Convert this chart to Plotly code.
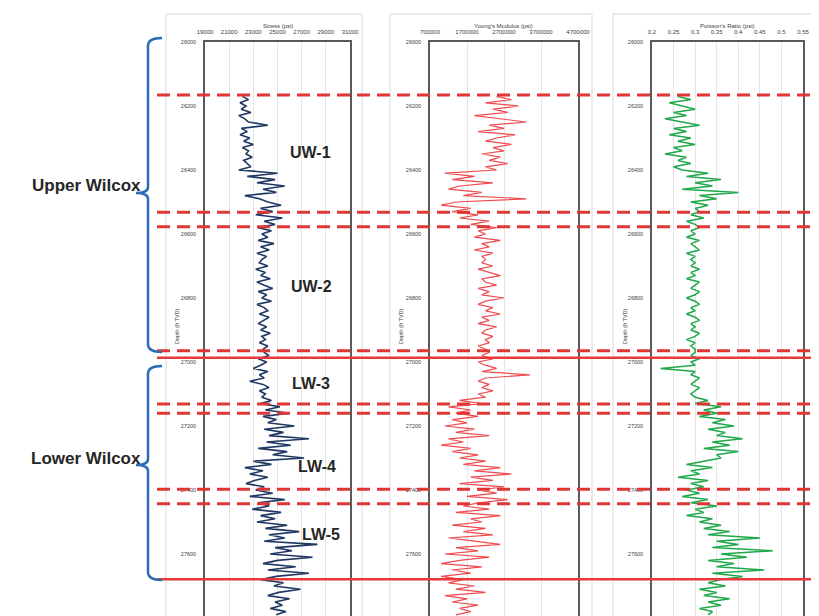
import plotly.graph_objects as go

W, H = 819, 616
OFFSET = 8  # page body margin in the browser

# ---------------- data ----------------
depth_start = 26170
depth_step = 10

stress_psi = [
    22100, 22600, 21900, 22400, 22000, 22800, 21800, 22300, 22600, 24200, 22000, 22500,
    21900, 22700, 22200, 23000, 22100, 22600, 22400, 22900, 22200, 22500, 22800, 21800,
    25000, 22500, 24800, 23300, 25600, 23800, 24900, 22300, 23500, 24200, 25300, 23600,
    24600, 23200, 25400, 23900, 24800, 23400, 24500, 23700, 24200, 23400, 24700, 23600, 24300, 23300, 24100, 23700,
    23500, 24200, 23200, 24000, 23600, 24400, 23300, 23900, 24600, 23400, 24100, 23700, 24500, 23300,
    23900, 24200, 23500, 24300, 23800, 23400, 24100, 23600, 24400, 23700, 24000, 23500, 24200, 23800,
    23900, 24300, 23400, 24100, 23600, 23000, 24200, 23500, 23900, 22700, 23800, 24300, 23500, 24000, 23700,
    24500, 23600, 25200, 24000, 26000, 23800, 24900,
    24200, 26400, 23900, 25500, 24300, 27600, 24100, 26100, 23400, 25800, 24600, 27200,
    23000, 24500, 22300, 23800, 22700, 24200, 23100, 22400, 23900, 23200,
    24600, 22700, 25600, 23400, 24300, 22900, 25300, 23600, 24800, 23300, 25800, 24000,
    26800, 24300, 25600, 23900, 28300, 24800, 26200, 24400, 27900, 25000, 23800, 26500, 24200, 27600, 24900, 23600,
    25500, 24700, 26900, 25100, 24200, 26000, 24800, 25400, 24400, 25700, 24900,
]

youngs_mpsi = [
    2.5, 2.9, 2.2, 3.1, 2.4, 2.8, 1.9, 2.6, 3.3, 2.3, 2.7, 2.0, 3.0, 2.5, 2.2, 2.9, 2.4, 2.7, 2.1, 2.6, 2.3, 2.8, 2.2, 2.5,
    1.1, 1.9, 1.3, 2.4, 1.5, 1.2, 2.1, 1.6, 3.3, 1.4, 1.0, 1.8,
    1.3, 2.0, 1.5, 2.3, 1.8, 2.5, 2.0, 2.2, 1.9, 2.6, 2.1, 2.3, 1.9, 2.4, 2.1, 2.2,
    2.1, 2.4, 2.0, 2.3, 2.6, 2.1, 2.2, 2.5, 2.0, 2.3, 2.1, 2.7, 2.2, 2.0,
    2.4, 2.2, 2.6, 2.1, 2.3, 2.0, 2.5, 2.2, 2.1, 2.4, 2.2, 2.3, 2.0, 2.2,
    2.3, 2.1, 2.4, 2.0, 2.2, 2.5, 2.1, 3.4, 2.2, 2.0, 2.3, 2.1, 2.4, 2.0, 2.2,
    1.5, 2.1, 1.2, 1.8, 1.4, 2.0, 1.3,
    1.7, 1.1, 1.9, 1.4, 2.3, 1.2, 1.6, 1.0, 1.8, 1.3, 2.0, 1.5,
    2.2, 1.6, 2.6, 1.9, 2.9, 1.8, 2.4, 1.5, 2.7, 2.0,
    2.5, 1.7, 2.8, 2.0, 1.6, 2.3, 1.4, 2.6, 1.8, 2.1, 1.3, 2.2,
    1.6, 2.4, 1.2, 1.9, 2.6, 1.4, 2.0, 1.1, 2.3, 1.5, 1.0, 2.1, 1.3, 1.8, 1.0, 1.6,
    1.2, 1.9, 1.4, 2.2, 1.1, 1.7, 1.3, 2.0, 1.5, 1.8, 1.4,
]

poisson_ratio = [
    0.26, 0.29, 0.24, 0.27, 0.30, 0.25, 0.28, 0.23, 0.27, 0.31, 0.25, 0.28,
    0.24, 0.29, 0.26, 0.30, 0.25, 0.27, 0.23, 0.28, 0.26, 0.29, 0.25, 0.27,
    0.33, 0.28, 0.36, 0.30, 0.34, 0.27, 0.40, 0.31, 0.35, 0.29, 0.33, 0.30,
    0.31, 0.29, 0.32, 0.28, 0.30, 0.31, 0.29, 0.30, 0.28, 0.31, 0.29, 0.30, 0.31, 0.28, 0.30, 0.29,
    0.30, 0.29, 0.31, 0.29, 0.30, 0.28, 0.31, 0.30, 0.29, 0.31, 0.30, 0.28, 0.30, 0.31,
    0.29, 0.30, 0.28, 0.30, 0.31, 0.29, 0.30, 0.29, 0.31, 0.30, 0.28, 0.30, 0.29, 0.30,
    0.30, 0.29, 0.31, 0.29, 0.30, 0.22, 0.30, 0.29, 0.31, 0.30, 0.29, 0.31, 0.30, 0.29, 0.30,
    0.33, 0.30, 0.36, 0.32, 0.35, 0.31, 0.37,
    0.34, 0.39, 0.33, 0.37, 0.35, 0.41, 0.34, 0.38, 0.32, 0.40, 0.35, 0.36,
    0.32, 0.28, 0.34, 0.29, 0.31, 0.26, 0.33, 0.29, 0.32, 0.28,
    0.31, 0.27, 0.33, 0.29, 0.35, 0.30, 0.32, 0.28, 0.34, 0.31, 0.36, 0.32,
    0.38, 0.33, 0.45, 0.35, 0.40, 0.34, 0.48, 0.36, 0.42, 0.33, 0.39, 0.35, 0.46, 0.34, 0.41, 0.36,
    0.33, 0.37, 0.31, 0.35, 0.32, 0.38, 0.33, 0.36, 0.31, 0.34, 0.33,
]

depth_ft = [depth_start + i * depth_step for i in range(len(stress_psi))]

depth_ticks = [26000, 26200, 26400, 26600, 26800, 27000, 27200, 27400, 27600, 27800]
stress_ticks = [19000, 21000, 23000, 25000, 27000, 29000, 31000]
youngs_ticks = [700000, 1700000, 2700000, 3700000, 4700000]
poisson_ticks = [0.2, 0.25, 0.3, 0.35, 0.4, 0.45, 0.5, 0.55]
poisson_tick_text = ["0.2", "0.25", "0.3", "0.35", "0.4", "0.45", "0.5", "0.55"]

dashed_boundaries = [26166, 26532, 26577, 26965, 27131, 27160, 27398, 27443]
solid_boundaries = [26987, 27679]

zone_labels = ["UW-1", "UW-2", "LW-3", "LW-4", "LW-5"]
zone_label_depths = [26345, 26764, 27067, 27325, 27540]
zone_label_stress = [27690, 27850, 27770, 28270, 28600]

formations = ["Upper Wilcox", "Lower Wilcox"]

panel_titles = ["Stress (psi)", "Young's Modulus (psi)", "Poisson's Ratio (psi)"]

# ---------------- figure ----------------
def px(x):
    return (x - OFFSET) / W

def py(y):
    return 1 - (y - OFFSET) / H

fig = go.Figure()
fig.add_trace(go.Scatter(x=stress_psi, y=depth_ft, xaxis="x", yaxis="y", mode="lines",
                         line=dict(color="#1f3864", width=1.6), showlegend=False))
fig.add_trace(go.Scatter(x=[v * 1e6 for v in youngs_mpsi], y=depth_ft, xaxis="x2", yaxis="y2",
                         mode="lines", line=dict(color="#ee4b4f", width=1.2), showlegend=False))
fig.add_trace(go.Scatter(x=poisson_ratio, y=depth_ft, xaxis="x3", yaxis="y3", mode="lines",
                         line=dict(color="#20a84a", width=1.5), showlegend=False))

font = "Arial, Liberation Sans, sans-serif"
ydom = [0, py(42)]
yrange = [26000 + (H + OFFSET - 42) * 3.125, 26000]

def xax(dom, rng, tv, tt, anchor):
    return dict(domain=dom, range=rng, side="top", anchor=anchor, tickvals=tv, ticktext=tt,
                showgrid=True, gridcolor="#e6e6e6", gridwidth=1, zeroline=False,
                showline=True, linecolor="#5a5a5a", linewidth=1.5, mirror=True, automargin=False,
                ticks="", ticklabelstandoff=4, tickfont=dict(size=6, color="#404040", family=font))

def yax(anchor):
    return dict(domain=ydom, range=yrange, anchor=anchor, tickvals=depth_ticks,
                ticktext=[str(t) for t in depth_ticks], showgrid=False, zeroline=False,
                showline=True, linecolor="#5a5a5a", linewidth=1.5, mirror=True, automargin=False,
                ticks="", ticklabelstandoff=6, tickfont=dict(size=5.5, color="#404040", family=font))

panel_doms = [[px(205), px(350)], [px(430), px(578)], [px(652), px(803)]]

fig.update_layout(
    width=W, height=H, margin=dict(l=0, r=0, t=0, b=0, pad=0, autoexpand=False),
    paper_bgcolor="white", plot_bgcolor="white",
    xaxis=xax(panel_doms[0], [19000, 31000], stress_ticks, [str(t) for t in stress_ticks], "y"),
    xaxis2=xax(panel_doms[1], [700000, 4700000], youngs_ticks, [str(t) for t in youngs_ticks], "y2"),
    xaxis3=xax(panel_doms[2], [0.2, 0.55], poisson_ticks, poisson_tick_text, "y3"),
    yaxis=yax("x"), yaxis2=yax("x2"), yaxis3=yax("x3"),
)

shapes = []
# chart-area frames
for x0, x1 in [(166, 362), (390, 592), (613, 815)]:
    shapes.append(dict(type="rect", xref="paper", yref="paper", x0=px(x0), x1=px(x1),
                       y0=py(630), y1=py(14), line=dict(color="#d9d9d9", width=1), layer="below"))
# boundaries
for d in dashed_boundaries:
    shapes.append(dict(type="line", xref="paper", yref="y", x0=px(157), x1=1, y0=d, y1=d,
                       line=dict(color="#e03636", width=3, dash="13px,7px")))
for d in solid_boundaries:
    shapes.append(dict(type="line", xref="paper", yref="y", x0=px(157), x1=1, y0=d, y1=d,
                       line=dict(color="#e8383a", width=2.5)))

# braces
def brace(top, bottom, mid, xv=148, xr=162, xt=136):
    p = (f"M {px(xr)},{py(top)} Q {px(xv)},{py(top)} {px(xv)},{py(top + 8)} "
         f"L {px(xv)},{py(mid - 6)} Q {px(xv)},{py(mid)} {px(xt)},{py(mid)} "
         f"Q {px(xv)},{py(mid)} {px(xv)},{py(mid + 6)} "
         f"L {px(xv)},{py(bottom - 8)} Q {px(xv)},{py(bottom)} {px(xr)},{py(bottom)}")
    return dict(type="path", xref="paper", yref="paper", path=p,
                line=dict(color="#2d6bb5", width=2.5))

shapes.append(brace(38, 352, 193))
shapes.append(brace(366, 580, 465))
fig.update_layout(shapes=shapes)

ann = []
for t, dom in zip(panel_titles, panel_doms):
    ann.append(dict(text=t, xref="paper", yref="paper", x=(dom[0] + dom[1]) / 2, y=py(26),
                    xanchor="center", yanchor="middle", showarrow=False,
                    font=dict(size=6, color="#404040", family=font)))
for x in [177, 401, 625]:
    ann.append(dict(text="Depth (ft TVD)", textangle=-90, xref="paper", yref="paper",
                    x=px(x), y=py(326), xanchor="center", yanchor="middle", showarrow=False,
                    font=dict(size=5.5, color="#404040", family=font)))
for t, d, s in zip(zone_labels, zone_label_depths, zone_label_stress):
    ann.append(dict(text=f"<b>{t}</b>", xref="x", yref="y", x=s, y=d, showarrow=False,
                    xanchor="center", yanchor="middle",
                    font=dict(size=16, color="#262626", family=font)))
for t, yy in zip(formations, [185, 459]):
    ann.append(dict(text=f"<b>{t}</b>", xref="paper", yref="paper", x=px(86), y=py(yy),
                    xanchor="center", yanchor="middle", showarrow=False,
                    font=dict(size=17, color="#262626", family=font)))
fig.update_layout(annotations=ann)

fig.write_html("out.html")
